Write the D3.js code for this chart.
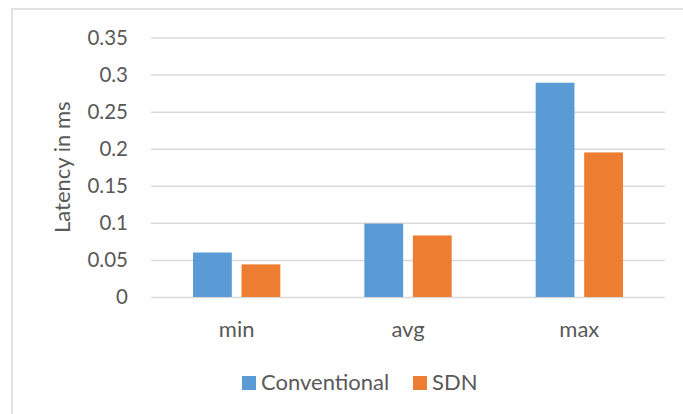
<!DOCTYPE html>
<html>
<head>
<meta charset="utf-8">
<script src="https://cdn.jsdelivr.net/npm/d3@7"></script>
<style>
  html, body { margin: 0; padding: 0; background: #fff; }
  svg text { font-family: Lato, "Open Sans", sans-serif; fill: #595959; }
</style>
</head>
<body>
<svg id="chart" width="683" height="414"></svg>
<script>
// Latency statistics per measurement type
const categories = ["min", "avg", "max"];
const seriesNames = ["Conventional", "SDN"];
const conventionalValues = [0.06, 0.099, 0.289];
const sdnValues = [0.044, 0.083, 0.195];
const yTicks = [0, 0.05, 0.1, 0.15, 0.2, 0.25, 0.3, 0.35];
const yTickLabels = ["0", "0.05", "0.1", "0.15", "0.2", "0.25", "0.3", "0.35"];
const colors = ["#5B9BD5", "#ED7D31"];

const series = [conventionalValues, sdnValues];
const svg = d3.select("#chart");

// chart frame (runs off the right and bottom edges)
svg.append("rect")
  .attr("x", 12).attr("y", 9)
  .attr("width", 700).attr("height", 440)
  .attr("fill", "none").attr("stroke", "#D9D9D9").attr("stroke-width", 1.5);

const plot = { left: 151, right: 665, top: 37.5, bottom: 297 };

const y = d3.scaleLinear().domain([0, 0.35]).range([plot.bottom, plot.top]);
const x0 = d3.scaleBand().domain(categories).range([plot.left, plot.right]).paddingInner(0).paddingOuter(0);
const x1 = d3.scaleBand().domain(seriesNames).range([42, x0.bandwidth() - 42]).paddingInner(0.2).paddingOuter(0);

// horizontal gridlines + tick labels via axis
const yAxis = d3.axisLeft(y)
  .tickValues(yTicks)
  .tickFormat((d, i) => yTickLabels[i])
  .tickSize(-(plot.right - plot.left))
  .tickPadding(23);

const gy = svg.append("g")
  .attr("transform", `translate(${plot.left},0)`)
  .call(yAxis);
gy.select(".domain").remove();
gy.selectAll(".tick line").attr("stroke", "#D9D9D9").attr("stroke-width", 1.5);
gy.selectAll(".tick text")
  .attr("font-size", 20.5)
  .attr("fill", "#595959")
  .style("font-family", "Lato, 'Open Sans', sans-serif");

// bars
const groups = svg.append("g").selectAll("g")
  .data(categories)
  .join("g")
  .attr("transform", d => `translate(${x0(d)},0)`);

groups.selectAll("rect")
  .data((d, i) => seriesNames.map((s, j) => ({ s, v: series[j][i], j })))
  .join("rect")
  .attr("x", d => x1(d.s))
  .attr("width", x1.bandwidth())
  .attr("y", d => y(d.v))
  .attr("height", d => y(0) - y(d.v))
  .attr("fill", d => colors[d.j]);

// category axis labels
const xAxis = d3.axisBottom(x0).tickSize(0).tickPadding(24);
const gx = svg.append("g")
  .attr("transform", `translate(0,${plot.bottom})`)
  .call(xAxis);
gx.select(".domain").remove();
gx.selectAll(".tick text")
  .attr("font-size", 22)
  .attr("fill", "#595959")
  .style("font-family", "Lato, 'Open Sans', sans-serif");

// y axis title
svg.append("text")
  .attr("transform", `translate(70,${(plot.top + plot.bottom) / 2}) rotate(-90)`)
  .attr("text-anchor", "middle")
  .attr("font-size", 22)
  .text("Latency in ms");

// legend
const legend = svg.append("g");
const legendX = [242, 413];
seriesNames.forEach((name, i) => {
  legend.append("rect")
    .attr("x", legendX[i]).attr("y", 376)
    .attr("width", 14).attr("height", 14)
    .attr("fill", colors[i]);
  legend.append("text")
    .attr("x", legendX[i] + 19).attr("y", 389.5)
    .attr("font-size", 22)
    .text(name);
});
</script>
</body>
</html>
